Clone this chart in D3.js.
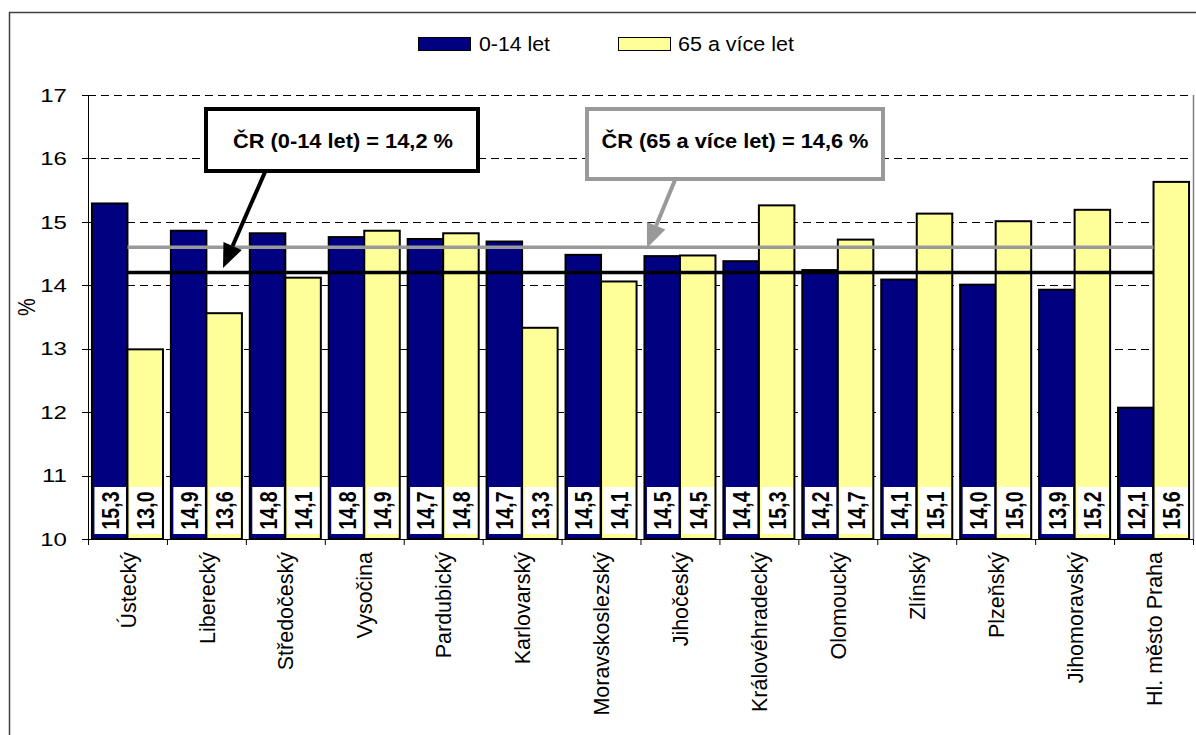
<!DOCTYPE html>
<html>
<head>
<meta charset="utf-8">
<script src="https://cdn.jsdelivr.net/npm/d3@7"></script>
<style>
  html, body { margin: 0; padding: 0; background: #fff; }
  svg { display: block; font-family: "Liberation Sans", Arial, sans-serif; }
</style>
</head>
<body>
<svg id="chart" width="1196" height="735"></svg>
<script>
const categories = ["Ústecký", "Liberecký", "Středočeský", "Vysočina", "Pardubický", "Karlovarský",
  "Moravskoslezský", "Jihočeský", "Královéhradecký", "Olomoucký", "Zlínský", "Plzeňský",
  "Jihomoravský", "Hl. město Praha"];
const children = [15.29, 14.86, 14.82, 14.76, 14.73, 14.69, 14.48, 14.46, 14.38, 14.24, 14.09, 14.01, 13.93, 12.07];
const seniors  = [12.99, 13.56, 14.12, 14.86, 14.82, 13.33, 14.06, 14.47, 15.26, 14.72, 15.13, 15.01, 15.19, 15.63];
const seriesNames = ["0-14 let", "65 a více let"];
const refChildren = 14.2;
const refSeniors = 14.6;
const yTicks = [10, 11, 12, 13, 14, 15, 16, 17];

(function () {
const svg = d3.select("#chart");
const pLeft = 88, pRight = 1193, pTop = 95, pBottom = 539;
const navy = "#000080", yellow = "#FFFF99";

const y = d3.scaleLinear().domain([10, 17]).range([pBottom, pTop]);
const x = d3.scaleBand().domain(categories).range([pLeft, pRight]).paddingInner(0.1).paddingOuter(0.05);
const step = x.step();
const xs = d3.scaleBand().domain([0, 1]).range([0, x.bandwidth()]);
const fmt = v => v.toFixed(1).replace(".", ",");

// outer chart border
svg.append("rect").attr("x", 9.5).attr("y", 12.5).attr("width", 1300).attr("height", 900)
  .attr("fill", "none").attr("stroke", "#404040").attr("stroke-width", 1.5);

// gridlines
svg.append("g").selectAll("line").data(yTicks.filter(t => t > 10)).join("line")
  .attr("x1", pLeft).attr("x2", pRight)
  .attr("y1", d => Math.round(y(d)) + 0.5).attr("y2", d => Math.round(y(d)) + 0.5)
  .attr("stroke", "#000").attr("stroke-width", 1).attr("stroke-dasharray", "8,5");

// plot area border (right)
svg.append("line").attr("x1", pRight + 0.5).attr("x2", pRight + 0.5).attr("y1", pTop).attr("y2", pBottom)
  .attr("stroke", "#808080").attr("stroke-width", 1.5);

// bars
const groups = svg.append("g").selectAll("g").data(categories).join("g")
  .attr("transform", d => `translate(${x(d)},0)`);
[children, seniors].forEach((arr, si) => {
  groups.append("rect")
    .attr("x", xs(si)).attr("width", xs.bandwidth())
    .attr("y", (d, i) => y(arr[i])).attr("height", (d, i) => y(10) - y(arr[i]))
    .attr("fill", si === 0 ? navy : yellow).attr("stroke", "#000").attr("stroke-width", 2);
});

// value labels
[children, seniors].forEach((arr, si) => {
  const g = groups.append("g");
  g.append("rect")
    .attr("x", xs(si) + 2.5).attr("width", xs.bandwidth() - 4)
    .attr("y", pBottom - 52).attr("height", 47).attr("fill", "#fff");
  g.append("text")
    .attr("transform", `translate(${xs(si) + xs.bandwidth() / 2 + 0.5},${pBottom - 28.5}) scale(1.22,1) rotate(-90)`)
    .attr("text-anchor", "middle").attr("dy", "0.36em")
    .attr("font-weight", "bold").attr("font-size", 19.5).attr("fill", "#000")
    .text((d, i) => fmt(arr[i]));
});

// axes
const yAxis = svg.append("g").attr("transform", `translate(${pLeft},0)`);
yAxis.append("line").attr("x1", 0.5).attr("x2", 0.5).attr("y1", pTop).attr("y2", pBottom).attr("stroke", "#000");
yAxis.selectAll("line.t").data(yTicks).join("line").attr("class", "t")
  .attr("x1", -6).attr("x2", 0).attr("y1", d => Math.round(y(d)) + 0.5).attr("y2", d => Math.round(y(d)) + 0.5)
  .attr("stroke", "#000");
yAxis.selectAll("text").data(yTicks).join("text")
  .attr("transform", d => `translate(-21,${y(d)}) scale(1.3,1)`)
  .attr("text-anchor", "end").attr("dy", "0.36em").attr("font-size", 18.5).attr("fill", "#000")
  .text(d => d);

const xAxis = svg.append("g");
xAxis.append("line").attr("x1", pLeft).attr("x2", pRight).attr("y1", pBottom + 0.5).attr("y2", pBottom + 0.5).attr("stroke", "#000");
xAxis.selectAll("line.t").data(d3.range(categories.length + 1)).join("line").attr("class", "t")
  .attr("x1", i => pLeft + i * step + 0.5).attr("x2", i => pLeft + i * step + 0.5)
  .attr("y1", pBottom).attr("y2", pBottom + 6).attr("stroke", "#000");
xAxis.selectAll("text").data(categories).join("text")
  .attr("transform", d => `translate(${x(d) + x.bandwidth() / 2},${pBottom + 13}) scale(1.05,1) rotate(-90)`)
  .attr("text-anchor", "end").attr("dy", "0.36em").attr("font-size", 21.5).attr("fill", "#000")
  .text(d => d);

// y title
svg.append("text").attr("transform", "translate(27,307) scale(1.15,1) rotate(-90)")
  .attr("text-anchor", "middle").attr("dy", "0.36em").attr("font-size", 20).text("%");

// reference lines
const cx0 = x(categories[0]) + x.bandwidth() / 2;
const cx1 = x(categories[categories.length - 1]) + x.bandwidth() / 2;
svg.append("line").attr("x1", cx0).attr("x2", cx1).attr("y1", y(refSeniors)).attr("y2", y(refSeniors))
  .attr("stroke", "#999999").attr("stroke-width", 3.5);
svg.append("line").attr("x1", cx0).attr("x2", cx1).attr("y1", y(refChildren)).attr("y2", y(refChildren))
  .attr("stroke", "#000").attr("stroke-width", 3.5);

// annotations
function arrow(x1, y1, x2, y2, color, w) {
  const ang = Math.atan2(y2 - y1, x2 - x1);
  const L = 24, H = 10;
  const bx = x2 - L * Math.cos(ang), by = y2 - L * Math.sin(ang);
  svg.append("line").attr("x1", x1).attr("y1", y1).attr("x2", bx).attr("y2", by)
    .attr("stroke", color).attr("stroke-width", w);
  const p = [[x2, y2], [bx + H * Math.sin(ang), by - H * Math.cos(ang)], [bx - H * Math.sin(ang), by + H * Math.cos(ang)]];
  svg.append("polygon").attr("points", p.map(q => q.join(",")).join(" ")).attr("fill", color);
}
arrow(265, 172, 223, 268, "#000", 4);
arrow(675, 180, 647, 248, "#999999", 4);

svg.append("rect").attr("x", 206).attr("y", 109).attr("width", 272).attr("height", 62)
  .attr("fill", "#fff").attr("stroke", "#000").attr("stroke-width", 4);
svg.append("text").attr("x", 343).attr("y", 140).attr("dy", "0.36em").attr("text-anchor", "middle")
  .attr("font-weight", "bold").attr("font-size", 21).attr("textLength", 220).attr("lengthAdjust", "spacingAndGlyphs")
  .text("ČR (0-14 let) = " + fmt(refChildren) + " %");

svg.append("rect").attr("x", 587).attr("y", 109).attr("width", 296).attr("height", 70)
  .attr("fill", "#fff").attr("stroke", "#999999").attr("stroke-width", 4);
svg.append("text").attr("x", 735).attr("y", 140).attr("dy", "0.36em").attr("text-anchor", "middle")
  .attr("font-weight", "bold").attr("font-size", 21).attr("textLength", 267).attr("lengthAdjust", "spacingAndGlyphs")
  .text("ČR (65 a více let) = " + fmt(refSeniors) + " %");

// legend
const legend = [{ x: 418, c: navy, tx: 479, w: 71 }, { x: 618, c: yellow, tx: 678, w: 116 }];
legend.forEach((l, i) => {
  svg.append("rect").attr("x", l.x + 0.5).attr("y", 37.5).attr("width", 52).attr("height", 13)
    .attr("fill", l.c).attr("stroke", "#000").attr("stroke-width", 1);
  svg.append("text").attr("x", l.tx).attr("y", 44).attr("dy", "0.36em").attr("font-size", 20.5)
    .attr("textLength", l.w).attr("lengthAdjust", "spacingAndGlyphs").text(seriesNames[i]);
});
})();
</script>
</body>
</html>
